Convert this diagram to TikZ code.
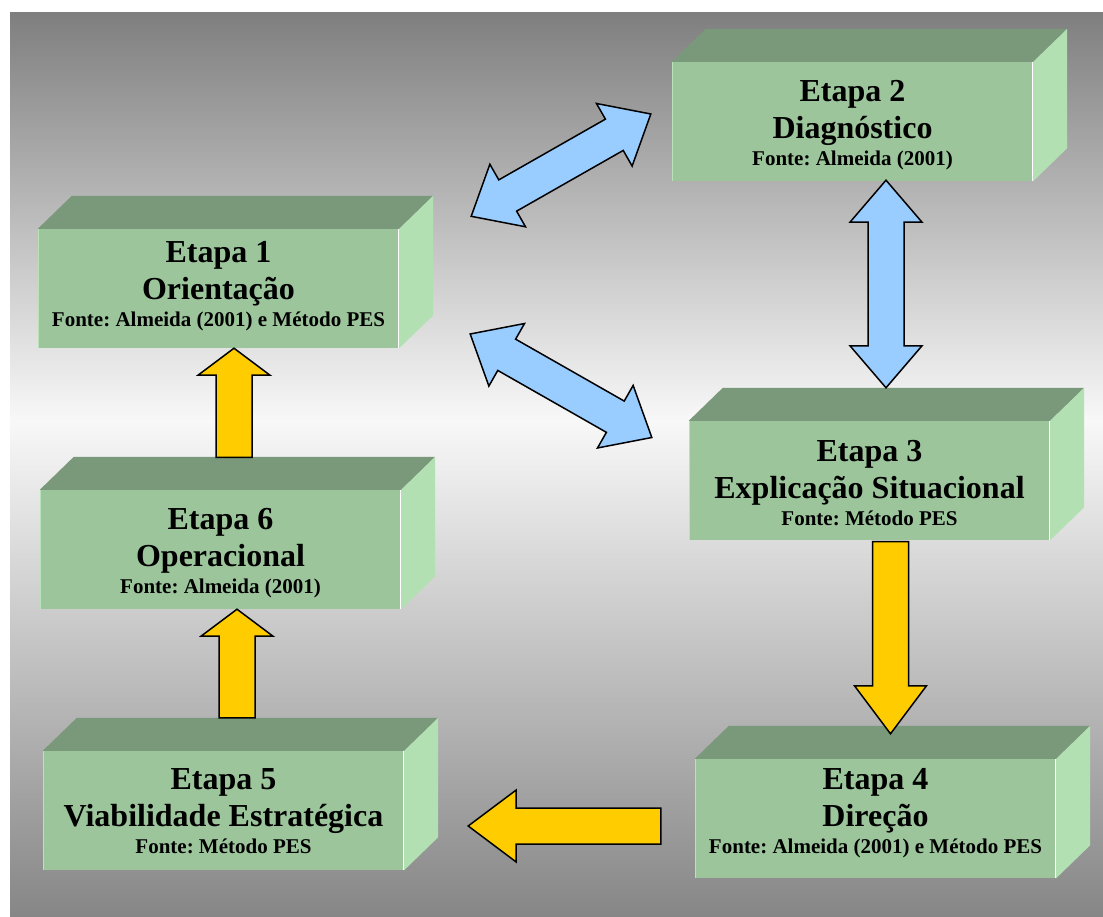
\documentclass[tikz,border=0pt]{standalone}
\usepackage{fontspec}
\setmainfont{Liberation Serif}
\frenchspacing
\usetikzlibrary{calc}

\definecolor{bgtop}{HTML}{7F7F7F}
\definecolor{bgmid}{HTML}{F8F8F8}
\definecolor{bgbot}{HTML}{868686}
\definecolor{facefront}{HTML}{9CC59C}
\definecolor{facetop}{HTML}{7A997A}
\definecolor{faceside}{HTML}{B2E0B2}
\definecolor{edgelight}{HTML}{B8E2B8}
\definecolor{arrowblue}{HTML}{99CCFF}
\definecolor{arrowyellow}{HTML}{FFCC00}

\tikzset{
  front/.style={rectangle, fill=facefront, inner sep=0pt, minimum width=361pt, minimum height=119pt},
  topface/.style={fill=facetop},
  sideface/.style={fill=faceside},
  title/.style={font=\fontsize{32}{38}\selectfont\bfseries, anchor=base, inner sep=0pt},
  source/.style={font=\fontsize{21}{25}\selectfont\bfseries, anchor=base, inner sep=0pt},
  blockarrow/.style={draw=black, line width=1.5pt, line join=miter},
}

% a 3-D stage box: name, left x, top y of the front face, baseline of first line, three lines of text
\newcommand\stagebox[7]{%
  \node[front] (#1) at (#2+180.5, #3+59.5) {};
  \fill[topface] (#1.north west) -- ++(34,-33) -- ($(#1.north east)+(34,-33)$) -- (#1.north east) -- cycle;
  \fill[sideface] (#1.north east) -- ++(34,-33) -- ($(#1.south east)+(34,-33)$) -- (#1.south east) -- cycle;
  \draw[edgelight, line width=1.5pt] ($(#1.north west)+(0.75,0)$) -- ($(#1.south west)+(0.75,0)$);
  \draw[white, line width=1.5pt] ($(#1.north east)+(-0.75,0)$) -- ($(#1.south east)+(-0.75,0)$);
  \node[title]  (#1-a) at ($(#1.north)+(0,#4)$) {#5};
  \node[title]  (#1-b) at ($(#1.north)+(0,#4+37)$) {#6};
  \node[source] (#1-c) at ($(#1.north)+(0,#4+64)$) {#7};
}

% one-way block arrow: colour, tail, tip, head length
\newcommand\onewayarrow[4]{%
  \coordinate (hb) at ($(#3)!#4!(#2)$);
  \draw[blockarrow, fill=#1]
    ($(#2)!18pt!90:(#3)$) -- ($(hb)!18pt!-90:(#2)$) -- ($(hb)!36pt!-90:(#2)$) -- (#3)
    -- ($(hb)!36pt!90:(#2)$) -- ($(hb)!18pt!90:(#2)$) -- ($(#2)!18pt!-90:(#3)$) -- cycle;
}

% two-way block arrow: colour, first tip, second tip, head length
\newcommand\twowayarrow[4]{%
  \coordinate (ha) at ($(#2)!#4!(#3)$);
  \coordinate (hb) at ($(#3)!#4!(#2)$);
  \draw[blockarrow, fill=#1]
    (#2) -- ($(ha)!36pt!90:(#3)$) -- ($(ha)!18pt!90:(#3)$) -- ($(hb)!18pt!-90:(#2)$)
    -- ($(hb)!36pt!-90:(#2)$) -- (#3) -- ($(hb)!36pt!90:(#2)$) -- ($(hb)!18pt!90:(#2)$)
    -- ($(ha)!18pt!-90:(#3)$) -- ($(ha)!36pt!-90:(#3)$) -- cycle;
}

\begin{document}
\begin{tikzpicture}[x=1pt, y=-1pt]
\useasboundingbox (0,0) rectangle (1103,917);

% backdrop: grey fading to white in the middle and back to grey
\fill[top color=bgtop, bottom color=bgmid] (10,13) rectangle (1103,421);
\fill[top color=bgmid, bottom color=bgbot] (10,420) rectangle (1103,917);

% stages
\stagebox{s1}{38}{229}{34}{Etapa 1}{Orientação}{Fonte: Almeida (2001) e Método PES}
\stagebox{s2}{672}{62}{40}{Etapa 2}{Diagnóstico}{Fonte: Almeida (2001)}
\stagebox{s3}{689}{421}{41}{Etapa 3}{Explicação Situacional}{Fonte: Método PES}
\stagebox{s4}{695}{759}{31}{Etapa 4}{Direção}{Fonte: Almeida (2001) e Método PES}
\stagebox{s5}{43}{751}{39}{Etapa 5}{Viabilidade Estratégica}{Fonte: Método PES}
\stagebox{s6}{40}{490}{40}{Etapa 6}{Operacional}{Fonte: Almeida (2001)}

% arrow end points (offsets in picture units, y pointing down)
\coordinate (s6up)   at ($(s6.north)+(13.5,-32.5)$);
\coordinate (s1dn)   at (s6up |- s1.south);
\coordinate (s5up)   at ($(s5.north)+(13.5,-33)$);
\coordinate (s6dn)   at (s5up |- s6.south);
\coordinate (s3dn)   at ($(s3.south)+(21,1.5)$);
\coordinate (s4up)   at ($(s3dn |- s4.north)+(0,-25)$);
\coordinate (s4lt)   at ($(s4.west)+(-34,7.5)$);
\coordinate (s5rt)   at ($(s5.east)+(64,15.5)$);
\coordinate (s2dn)   at ($(s2.south)+(33.5,-1)$);
\coordinate (s3up)   at ($(s2dn |- s3.north)+(0,-33)$);
\coordinate (s1ne)   at ($(s1.north east)+(72,-12.5)$);
\coordinate (s2w)    at ($(s2.west)+(-21,-7.5)$);
\coordinate (s1se)   at ($(s1.east)+(71,45.5)$);
\coordinate (s3w)    at ($(s3.west)+(-37,-43)$);

% flow between stages
\twowayarrow{arrowblue}{s1ne}{s2w}{42pt}
\twowayarrow{arrowblue}{s2dn}{s3up}{42pt}
\twowayarrow{arrowblue}{s1se}{s3w}{42pt}
\onewayarrow{arrowyellow}{s3dn}{s4up}{48pt}
\onewayarrow{arrowyellow}{s4lt}{s5rt}{48pt}
\onewayarrow{arrowyellow}{s5up}{s6dn}{27pt}
\onewayarrow{arrowyellow}{s6up}{s1dn}{27pt}
\end{tikzpicture}
\end{document}
